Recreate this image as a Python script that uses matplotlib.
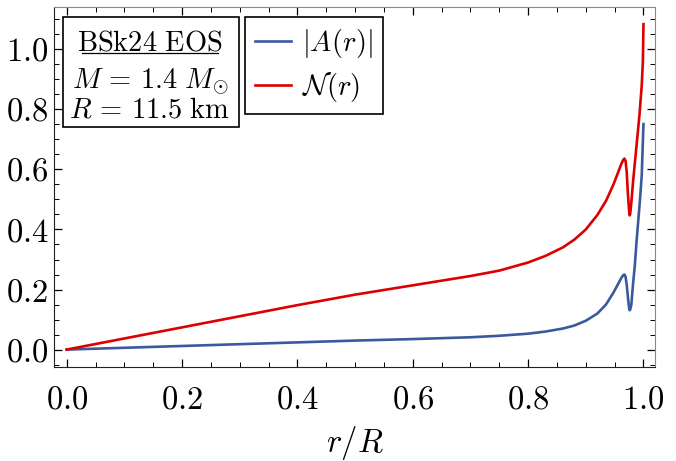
import numpy as np
import matplotlib
matplotlib.use('Agg')
import matplotlib.pyplot as plt
from matplotlib.patches import Rectangle
from matplotlib.lines import Line2D
from matplotlib.ticker import MultipleLocator, FixedLocator

plt.rcParams['mathtext.fontset'] = 'cm'
plt.rcParams['font.family'] = ['cmr10', 'DejaVu Serif']
plt.rcParams['axes.unicode_minus'] = False

# data
r_red = [0, 0.1, 0.2, 0.3, 0.4, 0.5, 0.6, 0.7, 0.75, 0.8, 0.83, 0.86, 0.88, 0.90,
         0.92, 0.935, 0.948, 0.957, 0.962, 0.965, 0.967, 0.969, 0.971, 0.973,
         0.975, 0.976, 0.977, 0.979, 0.982, 0.985, 0.989, 0.993, 0.997, 0.999, 1.0]
n_red = [0, 0.037, 0.074, 0.111, 0.148, 0.183, 0.214, 0.245, 0.263, 0.290, 0.312, 0.340,
         0.366, 0.400, 0.448, 0.495, 0.550, 0.595, 0.620, 0.632, 0.636, 0.628, 0.590, 0.520,
         0.465, 0.447, 0.452, 0.490, 0.560, 0.620, 0.700, 0.780, 0.880, 0.960, 1.084]

r_blue = [0, 0.1, 0.2, 0.3, 0.4, 0.5, 0.6, 0.7, 0.75, 0.8, 0.83, 0.86, 0.88, 0.90,
          0.92, 0.935, 0.948, 0.957, 0.962, 0.965, 0.967, 0.969, 0.971, 0.973,
          0.975, 0.976, 0.977, 0.979, 0.982, 0.985, 0.988, 0.991, 0.994, 0.997, 1.0]
a_blue = [0, 0.006, 0.012, 0.018, 0.024, 0.030, 0.035, 0.041, 0.046, 0.053, 0.060, 0.070,
          0.080, 0.096, 0.120, 0.150, 0.190, 0.222, 0.240, 0.248, 0.250, 0.242, 0.215, 0.175,
          0.140, 0.131, 0.133, 0.150, 0.220, 0.280, 0.360, 0.430, 0.500, 0.580, 0.751]

xticks = [0.0, 0.2, 0.4, 0.6, 0.8, 1.0]
yticks = [0.0, 0.2, 0.4, 0.6, 0.8, 1.0]

blue = '#3b5a9d'
red = '#dd0000'

fig = plt.figure(figsize=(6.76, 4.61), dpi=100)
ax = fig.add_axes([54/676, 1-367/461, 601/676, 360/461])

ax.plot(r_blue, a_blue, color=blue, lw=1.9, solid_joinstyle='round')
ax.plot(r_red, n_red, color=red, lw=1.9, solid_joinstyle='round')

ax.set_xlim(-0.022, 1.020)
ax.set_ylim(-0.058, 1.141)

ax.xaxis.set_major_locator(FixedLocator(xticks))
ax.yaxis.set_major_locator(FixedLocator(yticks))
ax.xaxis.set_minor_locator(MultipleLocator(0.05))
ax.yaxis.set_minor_locator(MultipleLocator(0.05))
ax.set_xticklabels(['$%.1f$' % t for t in xticks])
ax.set_yticklabels(['$%.1f$' % t for t in yticks])
ax.tick_params(which='both', direction='in', top=True, right=True, labelsize=23.5)
ax.tick_params(axis='x', pad=13)
ax.tick_params(axis='y', pad=4)
ax.tick_params(which='major', length=6, width=0.9)
ax.tick_params(which='minor', length=3.5, width=0.7)
for s in ['top', 'right']:
    ax.spines[s].set_color('#888888')
for s in ['left', 'bottom']:
    ax.spines[s].set_color('#222222')
ax.set_xlabel('$r/R$', fontsize=23.5, labelpad=7)

# info box
ax.add_patch(Rectangle((0.0155, 0.6675), 0.2918, 0.3055, transform=ax.transAxes,
                       fill=False, ec='black', lw=1.2, zorder=5))
ax.text(0.1597, 0.90, r'$\mathrm{BSk24\ EOS}$', transform=ax.transAxes,
        ha='center', va='center', fontsize=20.5)
ax.plot([0.046, 0.273], [0.873, 0.873], transform=ax.transAxes, color='black', lw=0.9)
ax.text(0.1597, 0.789, r'$M\,=\,1.4\ M_{\odot}$', transform=ax.transAxes,
        ha='center', va='center', fontsize=20.5)
ax.text(0.1597, 0.712, r'$R\,=\,11.5\ \mathrm{km}$', transform=ax.transAxes,
        ha='center', va='center', fontsize=20.5)

handles = [Line2D([], [], color=blue, lw=1.9), Line2D([], [], color=red, lw=1.9)]
leg = ax.legend(handles, [r'$|A(r)|$', r'$\mathcal{N}(r)$'], loc='upper left',
                bbox_to_anchor=(0.3178, 0.973), borderaxespad=0, fontsize=20.5,
                fancybox=False, edgecolor='black', framealpha=1,
                handlelength=1.25, handletextpad=0.4, labelspacing=0.35,
                borderpad=0.35)
leg.get_frame().set_linewidth(1.2)

fig.savefig('out.png', dpi=100)
